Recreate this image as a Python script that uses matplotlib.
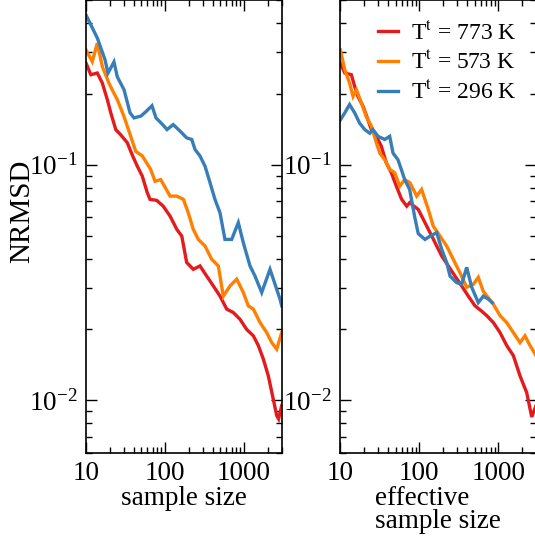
import matplotlib
matplotlib.use('Agg')
import matplotlib.pyplot as plt
from matplotlib.ticker import LogLocator, FixedLocator, FixedFormatter, NullFormatter, LogFormatterMathtext

plt.rcParams['font.family'] = ['Liberation Serif', 'DejaVu Serif']
plt.rcParams['mathtext.fontset'] = 'stix'

# ---------------- data ----------------
labels = ['T$^{\\rm t}$ = 773 K', 'T$^{\\rm t}$ = 573 K', 'T$^{\\rm t}$ = 296 K']
colors = ['#e41a1c', '#ff7f00', '#377eb8']

# left panel: NRMSD vs sample size
ss_773 = [10, 11.5, 13.9, 16.1, 18.6, 20.6, 23.8, 27.5, 33.3, 38.5, 44.6, 51.6, 59.7, 64.6, 78.5, 95, 116, 141,
          163, 188, 228, 277, 337, 409, 497, 604, 732, 889, 1082, 1312, 1517, 1754, 2032, 2350, 2594, 2740, 3000]
nrmsd_ss_773 = [0.270, 0.241, 0.245, 0.222, 0.189, 0.166, 0.141, 0.134, 0.124, 0.110, 0.0986, 0.0894, 0.0760,
                0.0713, 0.0706, 0.0667, 0.0605, 0.0532, 0.0498, 0.0385, 0.0360, 0.0372, 0.0337, 0.0306, 0.0277,
                0.0244, 0.0236, 0.0221, 0.0200, 0.0188, 0.0171, 0.0150, 0.0127, 0.0101, 0.00862, 0.00835, 0.0095]

ss_573 = [10, 12.0, 13.9, 16.1, 19.5, 22.6, 24.9, 30.3, 36.8, 42.6, 51.6, 65.9, 74.7, 88.2, 116, 141, 171, 197,
          228, 264, 321, 390, 473, 547, 665, 809, 980, 1133, 1312, 1595, 1938, 2243, 2594, 3000]
nrmsd_ss_573 = [0.307, 0.274, 0.328, 0.261, 0.222, 0.201, 0.189, 0.160, 0.132, 0.114, 0.109, 0.0955, 0.0851,
                0.0865, 0.0736, 0.0736, 0.0713, 0.0625, 0.0532, 0.0482, 0.0452, 0.0397, 0.0372, 0.0277, 0.0306,
                0.0327, 0.0287, 0.0252, 0.0244, 0.0214, 0.0194, 0.0176, 0.0165, 0.0194]

ss_296 = [10, 13.9, 17.4, 19.0, 22.6, 24.9, 30.3, 36.1, 40.5, 49.7, 57.4, 68.4, 76.9, 91.6, 106, 127, 155, 188,
          218, 240, 277, 321, 372, 429, 497, 574, 698, 847, 980, 1191, 1377, 1675, 2134, 2350, 2857, 3000]
nrmsd_ss_296 = [0.432, 0.345, 0.279, 0.245, 0.273, 0.236, 0.208, 0.166, 0.158, 0.161, 0.168, 0.178, 0.158,
                0.149, 0.141, 0.148, 0.139, 0.130, 0.128, 0.116, 0.109, 0.0986, 0.0838, 0.0713, 0.0625, 0.0482,
                0.0482, 0.0568, 0.0467, 0.0372, 0.0337, 0.0287, 0.0360, 0.0327, 0.0269, 0.0252]

# right panel: NRMSD vs effective sample size
ess_773 = [10, 11.4, 13.8, 15.2, 16.7, 19.4, 22.4, 24.7, 28.6, 33.0, 38.2, 44.2, 51.2, 59.8, 69.3, 75.5, 97, 118,
           144, 166, 192, 233, 283, 344, 417, 507, 617, 713, 865, 1052, 1277, 1549, 1884, 2287, 2648, 3000]
nrmsd_ess_773 = [0.270, 0.245, 0.241, 0.215, 0.195, 0.177, 0.155, 0.141, 0.132, 0.120, 0.102, 0.0925, 0.0811,
                 0.0713, 0.0667, 0.0690, 0.0646, 0.0568, 0.0498, 0.0452, 0.0410, 0.0372, 0.0337, 0.0306, 0.0277,
                 0.0252, 0.0239, 0.0229, 0.0214, 0.0194, 0.0171, 0.0155, 0.0127, 0.0108, 0.00851, 0.0095]

ess_573 = [10, 11.4, 13.1, 14.5, 16.0, 18.5, 21.3, 24.7, 28.6, 31.6, 36.5, 42.2, 48.8, 56.5, 65.3, 76.2, 92.7,
           107, 130, 150, 183, 222, 269, 327, 398, 483, 558, 646, 865, 1052, 1277, 1549, 1884, 2178, 2518, 3000]
nrmsd_ess_573 = [0.307, 0.253, 0.222, 0.195, 0.208, 0.183, 0.160, 0.146, 0.124, 0.112, 0.105, 0.0955, 0.0925,
                 0.0811, 0.0865, 0.0838, 0.0736, 0.0785, 0.0646, 0.0549, 0.0498, 0.0452, 0.0397, 0.0348, 0.0302,
                 0.0311, 0.0333, 0.0290, 0.0256, 0.0229, 0.0214, 0.0194, 0.0176, 0.0188, 0.0171, 0.0155]

ess_296 = [10, 11.4, 13.1, 15.2, 17.6, 20.4, 23.6, 25.9, 30.0, 36.5, 42.2, 46.5, 53.7, 59.2, 65.3, 75.5, 87.5,
           97, 118, 137, 166, 192, 222, 245, 297, 344, 398, 461, 558, 646, 747, 839]
nrmsd_ess_296 = [0.155, 0.166, 0.180, 0.166, 0.150, 0.141, 0.136, 0.141, 0.132, 0.128, 0.132, 0.112, 0.105,
                 0.0955, 0.0865, 0.0785, 0.060, 0.051, 0.0482, 0.0498, 0.0515, 0.0438, 0.0385, 0.0337, 0.0316,
                 0.0311, 0.0367, 0.0302, 0.0260, 0.0277, 0.0269, 0.0260]

xtick_vals = [10, 100, 1000]
xtick_labels = ['10', '100', '1000']
xlim = (10, 3000)
ylim = (0.006, 0.5)

# ---------------- figure ----------------
W, H = 535, 537
fig = plt.figure(figsize=(W / 100, H / 100), dpi=100)
ax1 = fig.add_axes([86 / W, 1 - 452.7 / H, 195.7 / W, 452.7 / H])
ax2 = fig.add_axes([340.3 / W, 1 - 452.7 / H, 195.7 / W, 452.7 / H])

left_series = [(ss_773, nrmsd_ss_773), (ss_573, nrmsd_ss_573), (ss_296, nrmsd_ss_296)]
right_series = [(ess_773, nrmsd_ess_773), (ess_573, nrmsd_ess_573), (ess_296, nrmsd_ess_296)]

for ax, series in ((ax1, left_series), (ax2, right_series)):
    for (xs, ys), c, lab in zip(series, colors, labels):
        ax.plot(xs, ys, color=c, lw=2.4, label=lab, solid_joinstyle='miter')
    ax.set_xscale('log')
    ax.set_yscale('log')
    ax.set_xlim(*xlim)
    ax.set_ylim(*ylim)
    ax.xaxis.set_major_locator(FixedLocator(xtick_vals))
    ax.xaxis.set_major_formatter(FixedFormatter(xtick_labels))
    ax.xaxis.set_minor_locator(LogLocator(base=10, subs=range(2, 10)))
    ax.xaxis.set_minor_formatter(NullFormatter())
    ax.yaxis.set_major_locator(LogLocator(base=10))
    ax.yaxis.set_major_formatter(LogFormatterMathtext())
    ax.yaxis.set_minor_locator(LogLocator(base=10, subs=range(2, 10)))
    ax.yaxis.set_minor_formatter(NullFormatter())
    ax.tick_params(which='both', direction='in', top=True, right=True, labelsize=19.5, width=1.0)
    ax.tick_params(which='major', length=8, pad=6)
    ax.tick_params(which='minor', length=4.3)
    for s in ax.spines.values():
        s.set_linewidth(1.2)

ax1.set_xlabel('sample size', fontsize=19.5, labelpad=0)
ax2.set_xlabel('effective\nsample size', fontsize=19.5, labelpad=0, multialignment='left', linespacing=0.9)
fig.text(22 / W, 1 - 211 / H, 'NRMSD', rotation=90, fontsize=21, ha='center', va='center')

leg = ax2.legend(loc='upper right', bbox_to_anchor=(0.9, 0.953), frameon=False, fontsize=17,
                 handlelength=0.85, handletextpad=0.55, labelspacing=0.28, borderaxespad=0, borderpad=0)

fig.savefig('out.png', dpi=100)
